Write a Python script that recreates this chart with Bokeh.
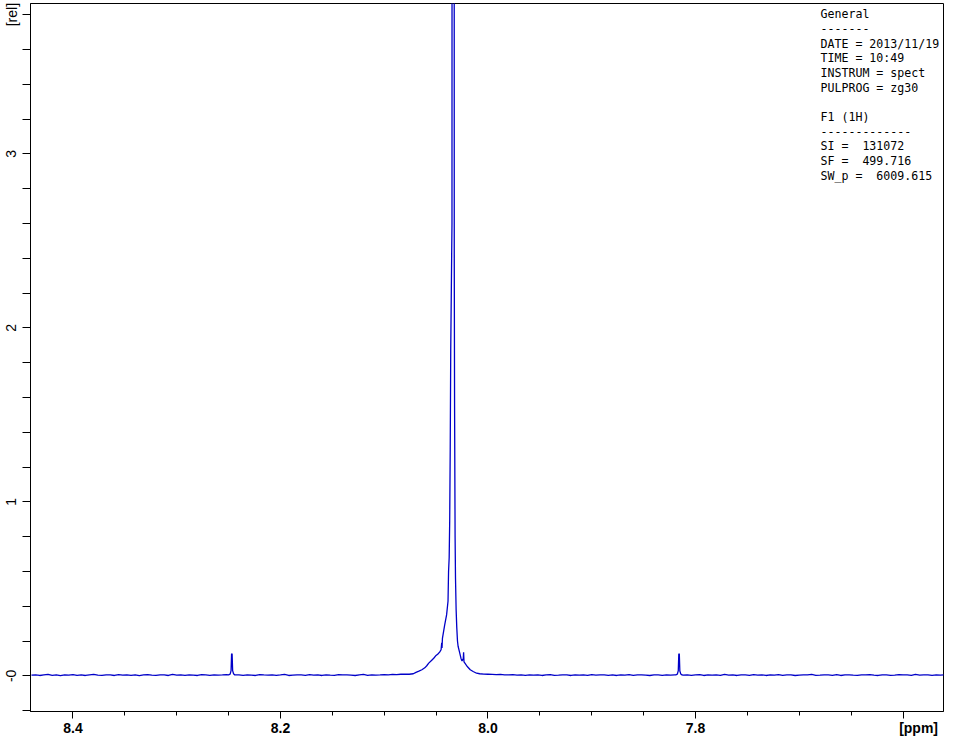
import numpy as np
from bokeh.plotting import figure
from bokeh.models import Range1d, FixedTicker, Label
from bokeh.embed import file_html
from bokeh.resources import INLINE

# ---------------- axis definitions ----------------
x_start, x_end = 8.4409, 7.561
y_start, y_end = -0.205, 3.864
x_major = [8.4, 8.2, 8.0, 7.8, 7.6]
x_major_labels = ["8.4", "8.2", "8.0", "7.8", "\u00a0" * 8 + "[ppm]"]
x_minor = [8.45, 8.35, 8.30, 8.25, 8.15, 8.10, 8.05, 7.95, 7.90, 7.85,
           7.75, 7.70, 7.65]
y_major = [0, 1, 2, 3, 3.8]
y_major_labels = ["-0", "1", "2", "3", "[rel]"]
y_minor = [-0.2, 0.2, 0.4, 0.6, 0.8, 1.2, 1.4, 1.6, 1.8, 2.2, 2.4, 2.6,
           2.8, 3.2, 3.4, 3.6]

# ---------------- spectrum data ----------------
# baseline segments: start ppm, step, intensities in 1/1000 rel units
base_step = 0.004
seg_a_start = 8.440
seg_a_vals = [4, 6, 2, 5, 8, 3, 5, 1, 6, 4, 7, 3, 5, 2, 6, 8, 4, 3, 6, 5, 2, 7, 4, 5,
              3, 6, 1, 5, 7, 4, 3, 6, 5, 2, 8, 4, 5, 3, 6, 4, 2, 7, 5, 3, 6, 4, 5, 7]
peak1_ppm = [8.2500, 8.2485, 8.2476, 8.2471, 8.2466, 8.2461, 8.2452, 8.2440]
peak1_val = [0.006, 0.010, 0.030, 0.127, 0.125, 0.030, 0.012, 0.005]
seg_b_start = 8.240
seg_b_vals = [5, 3, 6, 4, 2, 7, 5, 4, 6, 3, 5, 8, 2, 4, 6, 5, 3, 7, 4, 5, 2, 6, 4, 3,
              7, 5, 6, 4, 2, 5, 8, 3, 6, 4, 5, 7, 6, 8, 7, 9, 10, 9, 12]
main_ppm = [8.0694, 8.0666, 8.0637, 8.0609, 8.0590, 8.0571, 8.0542, 8.0523,
            8.0504, 8.0485, 8.0466, 8.0452, 8.0446, 8.0443, 8.0439, 8.0418,
            8.0399, 8.0385, 8.0380, 8.0374, 8.0369, 8.0364, 8.0359, 8.0347,
            8.0346, 8.0336, 8.0326, 8.0325, 8.0322, 8.0317, 8.0313, 8.0307,
            8.0301, 8.0294, 8.0288, 8.0276, 8.0260, 8.0250, 8.0238, 8.0235,
            8.0231, 8.0219, 8.0202, 8.0171, 8.0143, 8.0110]
main_val = [0.020, 0.027, 0.035, 0.046, 0.058, 0.073, 0.090, 0.101,
            0.115, 0.124, 0.136, 0.150, 0.190, 0.160, 0.215, 0.290,
            0.350, 0.430, 0.600, 0.680, 0.890, 1.300, 1.870, 2.600,
            6.000, 14.00, 6.000, 2.400, 1.560, 0.800, 0.560, 0.380,
            0.280, 0.200, 0.170, 0.140, 0.100, 0.085, 0.100, 0.135,
            0.080, 0.070, 0.055, 0.035, 0.025, 0.015]
seg_c_start = 8.008
seg_c_vals = [12, 10, 9, 8, 7, 8, 6, 5, 7, 4, 6, 3, 5, 4, 6, 2, 5, 7, 3, 4, 6, 5, 2, 6,
              4, 5, 3, 7, 4, 5, 6, 3, 5, 2, 6, 4, 7, 3, 5, 6, 4, 2, 5, 6, 3, 5, 4, 6]
peak2_ppm = [7.8190, 7.8175, 7.8166, 7.8161, 7.8156, 7.8151, 7.8142, 7.8130]
peak2_val = [0.006, 0.010, 0.030, 0.127, 0.124, 0.028, 0.011, 0.005]
seg_d_start = 7.812
seg_d_vals = [4, 6, 3, 5, 7, 2, 5, 4, 6, 3, 8, 4, 5, 2, 6, 5, 3, 7, 4, 6, 2, 5, 4, 7,
              3, 6, 5, 2, 4, 6, 5, 8, 3, 4, 6, 5, 3, 7, 2, 5, 6, 4, 3, 6, 5, 7, 4, 2,
              6, 5, 3, 4, 7, 5, 6, 3, 8, 4, 5, 6, 3, 5, 4, 6]

info_lines = ["General", "-------", "DATE = 2013/11/19", "TIME = 10:49",
              "INSTRUM = spect", "PULPROG = zg30", "", "F1 (1H)",
              "-------------", "SI =  131072", "SF =  499.716", "SW_p =  6009.615"]


def seg(start, vals):
    v = np.array(vals, dtype=float) / 1000.0
    x = start - base_step * np.arange(len(v))
    return x, v


parts = [
    seg(seg_a_start, seg_a_vals),
    (np.array(peak1_ppm), np.array(peak1_val)),
    seg(seg_b_start, seg_b_vals),
    (np.array(main_ppm), np.array(main_val)),
    seg(seg_c_start, seg_c_vals),
    (np.array(peak2_ppm), np.array(peak2_val)),
    seg(seg_d_start, seg_d_vals),
]
ppm = np.concatenate([p_[0] for p_ in parts])
inten = np.concatenate([p_[1] for p_ in parts])

# ---------------- figure ----------------
p = figure(width=944, height=738, output_backend="svg", toolbar_location=None,
           x_range=Range1d(x_start, x_end), y_range=Range1d(y_start, y_end),
           min_border_left=29, min_border_right=1, min_border_top=3,
           min_border_bottom=8)
p.background_fill_color = "white"
p.border_fill_color = "white"
p.outline_line_color = "black"
p.outline_line_width = 1
p.xgrid.visible = False
p.ygrid.visible = False

p.line(ppm, inten, line_color="#0000C8", line_width=1.3)

# x axis
xa = p.xaxis[0]
xa.ticker = FixedTicker(ticks=x_major, minor_ticks=x_minor)
xa.major_label_overrides = {t: l for t, l in zip(x_major, x_major_labels)}
xa.major_tick_out = 7
xa.major_tick_in = 0
xa.minor_tick_out = 4
xa.minor_tick_in = 0
xa.major_label_standoff = 1
xa.major_label_text_font = "Liberation Sans"
xa.major_label_text_font_style = "bold"
xa.major_label_text_font_size = "14px"
xa.major_label_text_color = "black"
xa.axis_line_color = "black"

# y axis
ya = p.yaxis[0]
ya.ticker = FixedTicker(ticks=y_major, minor_ticks=y_minor)
ya.major_label_overrides = {t: l for t, l in zip(y_major, y_major_labels)}
ya.major_label_orientation = "vertical"
ya.major_tick_out = 8
ya.major_tick_in = 0
ya.minor_tick_out = 8
ya.minor_tick_in = 0
ya.major_label_standoff = 3
ya.major_label_text_font = "Liberation Sans"
ya.major_label_text_font_size = "14px"
ya.major_label_text_color = "black"
ya.axis_line_color = "black"

# parameter block (non-breaking spaces keep the column alignment)
for i, line in enumerate(info_lines):
    if not line:
        continue
    p.add_layout(Label(x=x_end, y=y_end, x_offset=-123, y_offset=-10.6 - 14.7 * i,
                       text=line.replace(" ", "\u00a0"), text_align="left",
                       text_baseline="middle",
                       text_font="DejaVu Sans Mono", text_font_size="11.6px",
                       text_color="black"))

open("out.html", "w").write(file_html(p, INLINE))
